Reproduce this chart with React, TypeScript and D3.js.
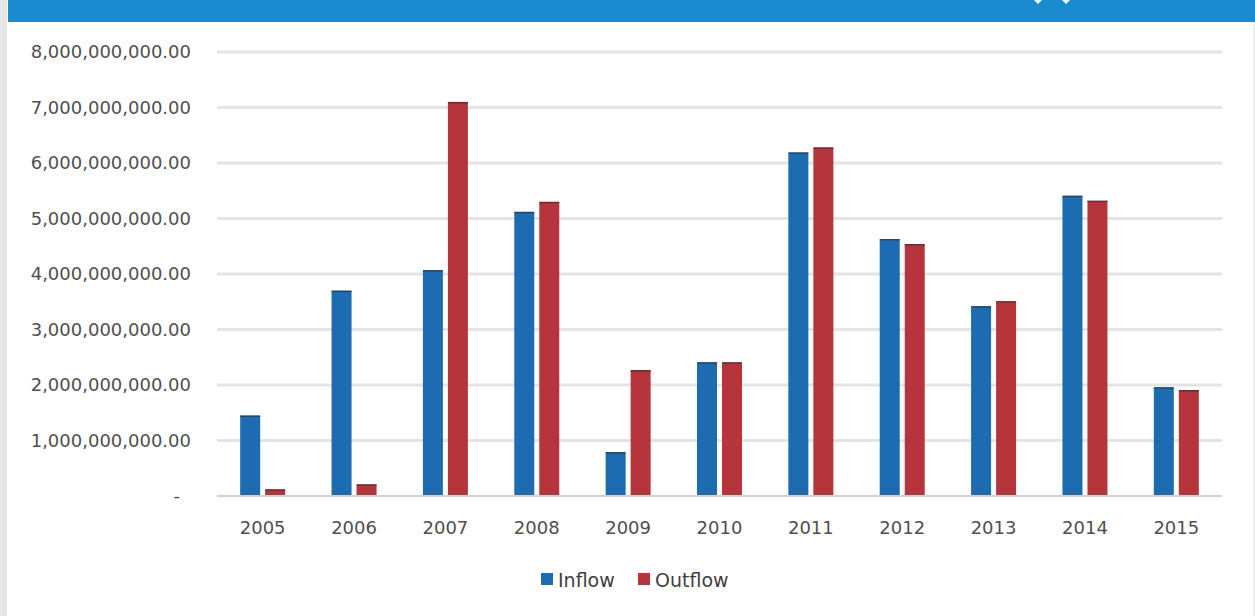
import React from "react";
import * as d3 from "d3";

const years = ["2005","2006","2007","2008","2009","2010","2011","2012","2013","2014","2015"];
const inflow = [1.45e9, 3.70e9, 4.07e9, 5.12e9, 0.79e9, 2.41e9, 6.19e9, 4.63e9, 3.42e9, 5.41e9, 1.96e9];
const outflow = [0.12e9, 0.21e9, 7.10e9, 5.30e9, 2.27e9, 2.41e9, 6.28e9, 4.54e9, 3.51e9, 5.32e9, 1.91e9];
const yTicks = [0, 1e9, 2e9, 3e9, 4e9, 5e9, 6e9, 7e9, 8e9];
const seriesNames = ["Inflow", "Outflow"];
const colors = ["#1d6cb2", "#b6353c"];

export default function App() {
  const W = 1255, H = 616;
  const left = 217, right = 1222, top = 52, bottom = 496;
  const x = d3.scaleBand<string>().domain(years).range([left, right]).paddingInner(0).paddingOuter(0);
  const y = d3.scaleLinear().domain([0, 8e9]).range([bottom, top]);
  const barW = 20, gap = 5;
  const fmt = (v: number) => (v === 0 ? "-" : d3.format(",.2f")(v));
  const font = "'DejaVu Sans', sans-serif";
  const series = [inflow, outflow];
  return (
    <svg width={W} height={H} style={{ position: "absolute", left: 0, top: 0, display: "block" }}>
      <rect x={0} y={0} width={W} height={H} fill="#ffffff" />
      <rect x={0} y={0} width={7} height={H} fill="#e6e6e6" />
      <rect x={1253} y={22} width={2} height={H - 22} fill="#eeeeee" />
      <rect x={8} y={0} width={W - 8} height={22} fill="#1b8bcf" />
      <path d="M1034,0 L1042,0 L1038,4 Z" fill="#ffffff" />
      <path d="M1062,0 L1070,0 L1066,4 Z" fill="#ffffff" />
      {yTicks.map((t) => (
        <g key={t}>
          {t > 0 && (
            <line x1={left} x2={right} y1={y(t)} y2={y(t)} stroke="#e4e4e4" strokeWidth={3} />
          )}
          <text
            x={t === 0 ? 180 : 191}
            y={y(t)}
            dy="0.35em"
            textAnchor="end"
            fontFamily={font}
            fontSize={18}
            fill="#4f4f4f"
          >
            {fmt(t)}
          </text>
        </g>
      ))}
      {years.map((yr, i) => {
        const cx = (x(yr) as number) + x.bandwidth() / 2;
        return (
          <g key={yr}>
            {series.map((s, k) => {
              const bx = k === 0 ? cx - gap / 2 - barW : cx + gap / 2;
              const by = y(s[i]);
              return (
                <g key={k}>
                  <rect x={bx} y={by} width={barW} height={bottom - by} fill={colors[k]} />
                  <rect x={bx} y={by} width={barW} height={1.5} fill="#3a3a3a" opacity={0.8} />
                </g>
              );
            })}
            <text x={cx} y={528} dy="0.35em" textAnchor="middle" fontFamily={font} fontSize={18} fill="#4f4f4f">
              {yr}
            </text>
          </g>
        );
      })}
      <line x1={left} x2={right} y1={bottom} y2={bottom} stroke="#d0d0d0" strokeWidth={2} />
      {seriesNames.map((n, k) => {
        const lx = k === 0 ? 541 : 638;
        return (
          <g key={n}>
            <rect x={lx} y={573} width={12} height={12} fill={colors[k]} />
            <text x={lx + 17} y={580} dy="0.35em" fontFamily={font} fontSize={19} fill="#404040">
              {n}
            </text>
          </g>
        );
      })}
    </svg>
  );
}
